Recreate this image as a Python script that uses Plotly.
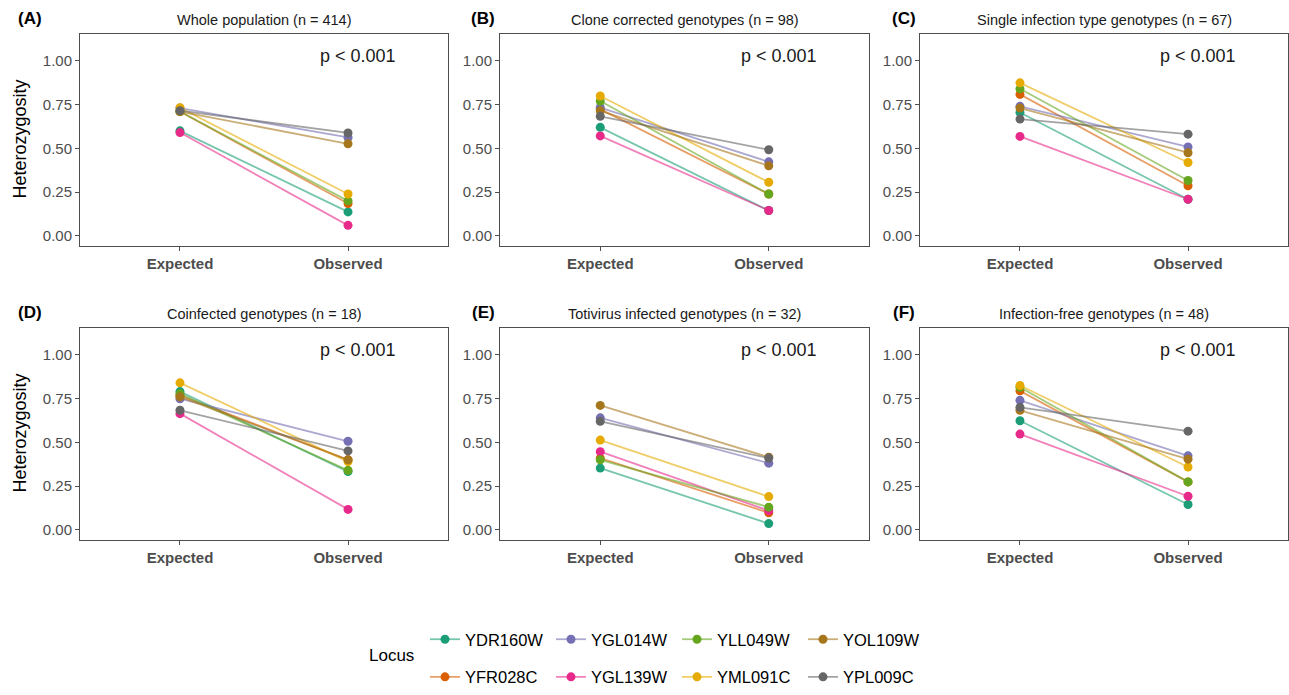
import plotly.graph_objects as go

W, H = 1289, 695

loci = ["YDR160W", "YFR028C", "YGL014W", "YGL139W", "YLL049W", "YML091C", "YOL109W", "YPL009C"]
colors = ["#1B9E77", "#D95F02", "#7570B3", "#E7298A", "#66A61E", "#E6AB02", "#A6761D", "#666666"]
line_colors = ["rgba(27,158,119,0.6)", "rgba(217,95,2,0.6)", "rgba(117,112,179,0.6)", "rgba(231,41,138,0.6)",
               "rgba(102,166,30,0.6)", "rgba(230,171,2,0.6)", "rgba(166,118,29,0.6)", "rgba(102,102,102,0.6)"]
groups = ["Expected", "Observed"]

panel_labels = ["(A)", "(B)", "(C)", "(D)", "(E)", "(F)"]
panel_titles = ["Whole population (n = 414)", "Clone corrected genotypes (n = 98)",
                "Single infection type genotypes (n = 67)", "Coinfected genotypes (n = 18)",
                "Totivirus infected genotypes (n = 32)", "Infection-free genotypes (n = 48)"]

# order of values follows `loci`
expected_A = [0.600, 0.710, 0.730, 0.590, 0.710, 0.732, 0.710, 0.715]
observed_A = [0.137, 0.185, 0.562, 0.060, 0.200, 0.239, 0.526, 0.588]
expected_B = [0.620, 0.724, 0.733, 0.571, 0.770, 0.799, 0.714, 0.683]
observed_B = [0.145, 0.239, 0.423, 0.145, 0.239, 0.306, 0.400, 0.492]
expected_C = [0.705, 0.808, 0.740, 0.568, 0.840, 0.874, 0.730, 0.667]
observed_C = [0.209, 0.286, 0.508, 0.209, 0.316, 0.419, 0.475, 0.581]
expected_D = [0.790, 0.768, 0.749, 0.664, 0.777, 0.840, 0.760, 0.683]
observed_D = [0.333, 0.400, 0.506, 0.117, 0.340, 0.390, 0.400, 0.451]
expected_E = [0.353, 0.410, 0.640, 0.447, 0.400, 0.513, 0.711, 0.620]
observed_E = [0.036, 0.098, 0.381, 0.110, 0.130, 0.190, 0.415, 0.410]
expected_F = [0.623, 0.794, 0.740, 0.547, 0.815, 0.825, 0.683, 0.700]
observed_F = [0.145, 0.274, 0.423, 0.192, 0.274, 0.359, 0.404, 0.564]

expected_all = [expected_A, expected_B, expected_C, expected_D, expected_E, expected_F]
observed_all = [observed_A, observed_B, observed_C, observed_D, observed_E, observed_F]

p_text = "p < 0.001"
y_ticks = [0.0, 0.25, 0.5, 0.75, 1.0]
y_ticktext = ["0.00", "0.25", "0.50", "0.75", "1.00"]

# layout geometry (pixels)
col_px = [(80, 448), (500, 869), (920, 1288)]
row_px = [(34, 248), (331, 545)]

legend_row1 = ["YDR160W", "YGL014W", "YLL049W", "YOL109W"]

fig = go.Figure()
FONT = "Liberation Sans, Arial, sans-serif"

for p in range(6):
    r, c = divmod(p, 3)
    idx = p + 1
    xa = "x" if idx == 1 else f"x{idx}"
    ya = "y" if idx == 1 else f"y{idx}"
    for i, locus in enumerate(loci):
        fig.add_trace(go.Scatter(
            x=groups, y=[expected_all[p][i], observed_all[p][i]],
            mode="lines+markers", name=locus,
            line=dict(color=line_colors[i], width=1.8),
            marker=dict(color=colors[i], size=9),
            xaxis=xa, yaxis=ya,
            showlegend=(p == 0),
            legend="legend" if locus in legend_row1 else "legend2",
            legendgroup=locus,
        ))
    x0, x1 = col_px[c]
    y0, y1 = row_px[r]
    dom_x = [x0 / W, x1 / W]
    dom_y = [1 - y1 / H, 1 - y0 / H]
    axis_common = dict(showline=True, linecolor="#4D4D4D", linewidth=1, mirror=True,
                       ticks="outside", ticklen=4, tickcolor="#4D4D4D", showgrid=False,
                       zeroline=False)
    fig.layout[f"xaxis{'' if idx == 1 else idx}"] = dict(
        domain=dom_x, anchor=ya, type="category", range=[-0.595, 1.595],
        tickfont=dict(family=FONT, size=15, color="#4D4D4D", weight="bold"), **axis_common)
    fig.layout[f"yaxis{'' if idx == 1 else idx}"] = dict(
        domain=dom_y, anchor=xa, range=[-0.055, 1.155], tickvals=y_ticks, ticktext=y_ticktext,
        tickfont=dict(family=FONT, size=15, color="#4D4D4D"), **axis_common)
    # p-value annotation
    fig.add_annotation(x=1.06, y=1.03, xref=xa, yref=ya, text=p_text, showarrow=False,
                       xanchor="center", yanchor="middle",
                       font=dict(family=FONT, size=18, color="#1a1a1a"))
    # subplot title
    fig.add_annotation(x=(x0 + x1) / 2 / W, y=1 - (y0 - 14) / H, xref="paper", yref="paper",
                       text=panel_titles[p], showarrow=False, xanchor="center", yanchor="middle",
                       font=dict(family=FONT, size=14.5, color="#1a1a1a"))
    # panel label
    lab_x = [30, 483, 904][c]
    fig.add_annotation(x=lab_x / W, y=1 - (y0 - 15) / H, xref="paper", yref="paper",
                       text=f"<b>{panel_labels[p]}</b>", showarrow=False,
                       xanchor="center", yanchor="middle",
                       font=dict(family=FONT, size=17, color="black"))

# y-axis titles
for r in range(2):
    y0, y1 = row_px[r]
    fig.add_annotation(x=20 / W, y=1 - ((y0 + y1) / 2) / H, xref="paper", yref="paper",
                       text="Heterozygosity", textangle=-90, showarrow=False,
                       xanchor="center", yanchor="middle",
                       font=dict(family=FONT, size=18, color="black"))

# legend title
fig.add_annotation(x=391 / W, y=1 - 662 / H, xref="paper", yref="paper", text="Locus",
                   showarrow=False, xanchor="center", yanchor="middle",
                   font=dict(family=FONT, size=17, color="black"))

leg_common = dict(orientation="h", xanchor="left", yanchor="middle", entrywidth=81,
                  font=dict(family=FONT, size=16.5, color="black"), bgcolor="rgba(0,0,0,0)",
                  tracegroupgap=0, itemclick=False)
fig.update_layout(
    width=W, height=H,
    margin=dict(l=0, r=0, t=0, b=0),
    paper_bgcolor="white", plot_bgcolor="white",
    legend=dict(x=425 / W, y=1 - 646 / H, **leg_common),
    legend2=dict(x=425 / W, y=1 - 684 / H, **leg_common),
    showlegend=True,
)

fig.write_html("out.html")
